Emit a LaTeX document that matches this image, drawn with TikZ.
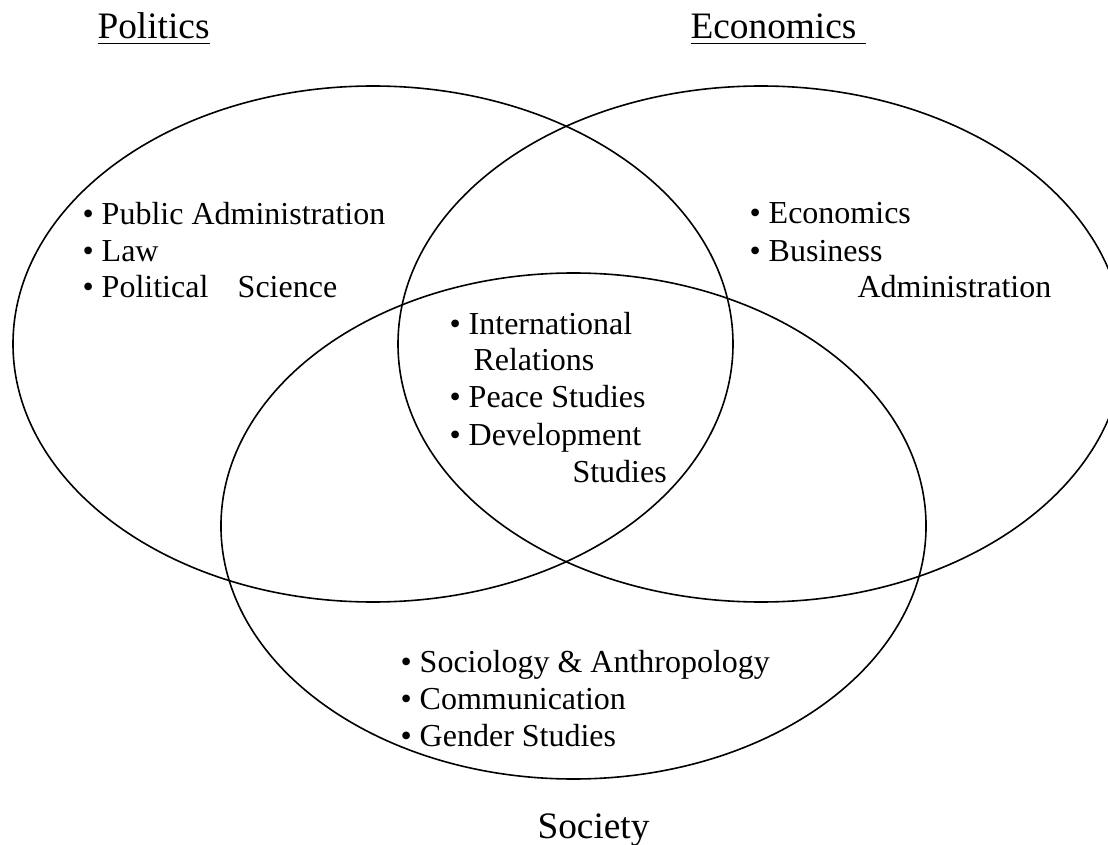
\documentclass[tikz,border=0pt]{standalone}
\usepackage{fontspec}
\setmainfont{Liberation Serif}
\usetikzlibrary{shapes.geometric}

\begin{document}
\begin{tikzpicture}[x=0.375pt, y=-0.375pt]
  \tikzstyle{field} = [ellipse, draw, line width=0.6pt, inner sep=0pt]
  \tikzstyle{item} = [anchor=base west, inner sep=0pt, font=\fontsize{12}{14}\selectfont]
  \tikzstyle{head} = [anchor=base west, inner sep=0pt, font=\fontsize{14}{16}\selectfont]

  \useasboundingbox (0,0) rectangle (1108,845);
  \clip (0,0) rectangle (1108,845);

  % the three fields
  \node [field, minimum width=270pt, minimum height=193.5pt] (politics) at (373,344) {};
  \node [field, minimum width=272.25pt, minimum height=193.5pt] (economics) at (761,344) {};
  \node [field, minimum width=264.4pt, minimum height=189.75pt] (society) at (573.5,526) {};

  % titles
  \node [head] (poltitle) at (97,39) {\underline{Politics}};
  \node [head] (ecotitle) at (690,39) {\underline{Economics\ }};
  \node [head] (soctitle) at (537,838) {Society};

  % politics only
  \node [item] (pubadm) at (82,225) {• Public Administration};
  \node [item] (law) at (82,262) {• Law};
  \node [item] (polsci) at (82,298) {• Political\hspace{11pt}Science};

  % economics only
  \node [item] (econ) at (749,224) {• Economics};
  \node [item] (busadm) at (749,261) {• Business};
  \node [item] (busadm2) at (857,298) {Administration};

  % centre
  \node [item] (intrel) at (449,334) {• International};
  \node [item] (intrel2) at (473,371) {Relations};
  \node [item] (peace) at (449,408) {• Peace Studies};
  \node [item] (devst) at (449,445) {• Development};
  \node [item] (devst2) at (572,482) {Studies};

  % society only
  \node [item] (socant) at (400,672) {• Sociology \& Anthropology};
  \node [item] (comm) at (400,709) {• Communication};
  \node [item] (gender) at (400,746) {• Gender Studies};
\end{tikzpicture}
\end{document}
